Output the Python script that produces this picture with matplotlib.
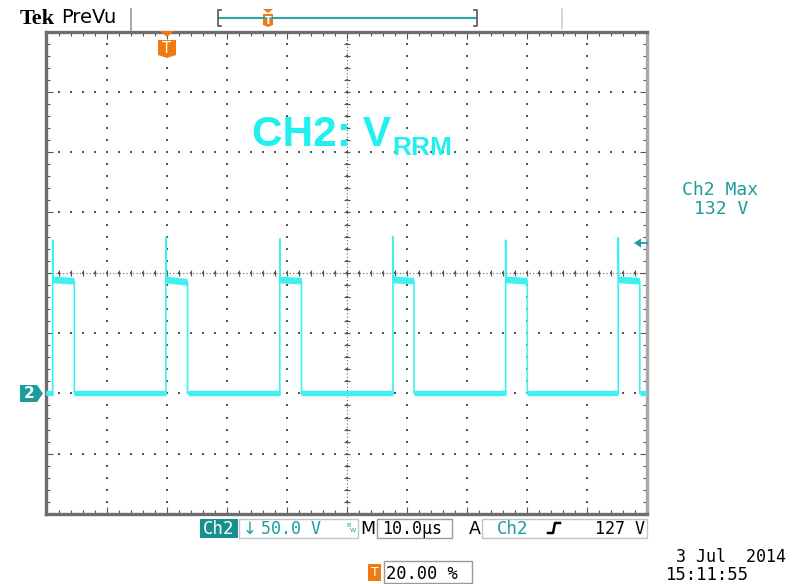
import numpy as np
import matplotlib
matplotlib.use('Agg')
import matplotlib.pyplot as plt
from matplotlib.patches import Rectangle, Polygon

# scope settings: 10 us/div, trigger at 20 %, 50 V/div, ground 2 div above bottom
t_min, t_max = -20.0, 80.0
v_min, v_max = -100.0, 300.0

# edges (us) and levels (V)
rise_us = [-18.97, -0.12, 18.85, 37.70, 56.46, 75.21]
fall_us = [-15.37, 3.49, 22.46, 41.20, 60.07, 78.80]
spike_v = [127, 130, 128, 130, 127, 129]
high_start_v = [94, 94, 94, 94, 94, 94]
high_end_v = [93, 92, 93, 93, 93, 93]
low_v = 0.0

trace_col = '#3ff0f0'
teal = '#1c9c9c'
orange = '#f07a12'

W, H = 803, 584
fig = plt.figure(figsize=(W / 100, H / 100), dpi=100)
fig.patch.set_facecolor('white')

# graticule area in pixels
gl, gr, gt, gb = 46.5, 647.0, 31.5, 514.0
ax = fig.add_axes([gl / W, 1 - gb / H, (gr - gl) / W, (gb - gt) / H])
ax.set_xlim(t_min, t_max)
ax.set_ylim(v_min, v_max)
ax.set_facecolor('white')

# dotted graticule
xmaj = np.arange(t_min, t_max + 0.1, 10)
ymaj = np.arange(v_min, v_max + 0.1, 50)
xmin_ = np.arange(t_min, t_max + 0.1, 2)
ymin_ = np.arange(v_min, v_max + 0.1, 10)
for x in xmaj[1:-1]:
    ax.scatter(np.full(len(ymin_), x), ymin_, s=2.2, marker='s', color='#555555', lw=0, zorder=1)
for y in ymaj[1:-1]:
    ax.scatter(xmin_, np.full(len(xmin_), y), s=2.2, marker='s', color='#555555', lw=0, zorder=1)

# center cross with ticks
xc, yc = (t_min + t_max) / 2, (v_min + v_max) / 2
ax.plot([xc, xc], [v_min, v_max], color='#666666', lw=0.8, ls=(0, (1, 2)), zorder=1)
ax.plot([t_min, t_max], [yc, yc], color='#666666', lw=0.8, ls=(0, (1, 2)), zorder=1)
ax.scatter(np.full(len(ymin_), xc), ymin_, marker='_', s=25, color='#555555', lw=0.9, zorder=1)
ax.scatter(xmin_, np.full(len(xmin_), yc), marker='|', s=25, color='#555555', lw=0.9, zorder=1)

# trace
t = [t_min]
v = [low_v]
for r, f, sp, hs, he in zip(rise_us, fall_us, spike_v, high_start_v, high_end_v):
    t += [r, r, r + 0.08, f, f]
    v += [low_v, sp, hs, he, low_v]
t.append(t_max)
v.append(low_v)
ax.plot(t, v, color=trace_col, lw=1.2, zorder=3)

# thick noisy flats
starts = [t_min] + fall_us
ends = rise_us + [t_max]
for a, b in zip(starts, ends):
    ax.plot([a, b], [low_v, low_v], color=trace_col, lw=3.8, solid_capstyle='butt', zorder=3)
for r, f, hs, he in zip(rise_us, fall_us, high_start_v, high_end_v):
    ax.plot([r + 0.08, f], [hs, he], color=trace_col, lw=4.8, solid_capstyle='butt', zorder=3)

ax.set_xticks(xmaj)
ax.set_yticks(ymaj)
ax.set_xticks(xmin_, minor=True)
ax.set_yticks(ymin_, minor=True)
ax.tick_params(which='both', direction='in', top=True, right=True, labelbottom=False,
               labelleft=False, color='#555555')
ax.tick_params(which='major', length=5, width=0.8)
ax.tick_params(which='minor', length=3, width=0.8)
for side in ['left', 'bottom', 'top']:
    ax.spines[side].set_color('#6e6e6e')
    ax.spines[side].set_linewidth(2.4)
ax.spines['right'].set_color('#a8a8a8')
ax.spines['right'].set_linewidth(2.4)

# overlay in pixel coordinates for the scope decorations
ov = fig.add_axes([0, 0, 1, 1], zorder=5)
ov.set_xlim(0, W)
ov.set_ylim(H, 0)
ov.axis('off')
ov.patch.set_alpha(0)

sans = 'DejaVu Sans'
mono = 'DejaVu Sans Mono'

# header
ov.text(20, 24, 'Tek', fontsize=16, fontweight='bold', family='Liberation Serif', va='baseline')
ov.text(61, 23, 'PreVu', fontsize=14, family=sans, va='baseline')
ov.plot([131, 131], [9, 30], color='#9a9a9a', lw=1.2)
ov.plot([562, 562], [9, 28], color='#cfcfcf', lw=1.2)
ov.plot([219, 476], [18, 18], color='#2aa8a8', lw=1.5)
ov.plot([221, 218, 218, 221], [10, 10, 26, 26], color='#555555', lw=1.2)
ov.plot([474, 477, 477, 474], [10, 10, 26, 26], color='#555555', lw=1.2)
ov.add_patch(Polygon([[263, 9], [273, 9], [268, 13]], closed=True, color=orange, lw=0))
ov.add_patch(Polygon([[263, 14], [273, 14], [273, 25], [268, 27], [263, 25]], closed=True, color=orange, lw=0))
ov.text(268, 20.5, 'T', fontsize=7, color='white', ha='center', va='center', family=sans, fontweight='bold')

# trigger position marker
ov.add_patch(Polygon([[160, 31], [174, 31], [167, 37]], closed=True, color=orange, lw=0))
ov.add_patch(Polygon([[158, 40], [176, 40], [176, 55], [167, 58], [158, 55]], closed=True, color=orange, lw=0))
ov.text(167, 48.5, 'T', fontsize=10.5, color='white', ha='center', va='center', family=sans)

# ground marker for channel 2
ov.add_patch(Polygon([[20, 385], [37, 385], [43, 393.5], [37, 402], [20, 402]], closed=True, color=teal, lw=0))
ov.text(29, 394, '2', fontsize=11, color='white', ha='center', va='center', family=sans, fontweight='bold')

# trigger level arrow
ov.add_patch(Polygon([[634, 243], [641, 238.5], [641, 247.5]], closed=True, color=teal, lw=0))
ov.plot([640, 647], [243, 243], color=teal, lw=1.3)

# annotation
ov.text(252, 146.5, 'CH2: V', fontsize=30.5, fontweight='bold', family='Liberation Sans',
        color='#20f0f0', va='baseline')
ov.text(392, 155, 'RRM', fontsize=19, fontweight='bold', family='Liberation Sans',
        color='#20f0f0', va='baseline')

# measurement readout
ov.text(720, 195, 'Ch2 Max', fontsize=13, color=teal, ha='center', va='baseline', family=mono)
ov.text(721, 213.5, '132 V', fontsize=13, color=teal, ha='center', va='baseline', family=mono)

# bottom status bar
ov.add_patch(Rectangle((200, 519), 38, 19, color='#17918f', lw=0))
ov.text(219, 534, 'Ch2', fontsize=12.5, color='white', ha='center', va='baseline', family=mono)
ov.add_patch(Rectangle((239, 519), 119, 19, fill=False, ec='#c4c4c4', lw=1))
ov.text(243, 534, '\u2193', fontsize=12, color=teal, va='baseline', family=sans)
ov.text(261, 534, '50.0 V', fontsize=12, color=teal, va='baseline', family=mono)
ov.text(346, 527, 'B', fontsize=4.5, color=teal, va='baseline', family=sans)
ov.text(350, 532, 'W', fontsize=4.5, color=teal, va='baseline', family=sans)
ov.text(360, 534, 'M', fontsize=12.5, color='black', va='baseline', family=sans)
ov.add_patch(Rectangle((377, 519), 75, 19, fill=False, ec='#9a9a9a', lw=1))
ov.text(382, 534, '10.0\u00b5s', fontsize=12, color='black', va='baseline', family=mono)
ov.text(469, 534, 'A', fontsize=12.5, color='black', va='baseline', family=sans)
ov.add_patch(Rectangle((482, 519), 165, 19, fill=False, ec='#c4c4c4', lw=1))
ov.text(497, 534, 'Ch2', fontsize=12.5, color=teal, va='baseline', family=mono)
ov.plot([548, 553, 555, 560], [533, 533, 523, 523], color='black', lw=1.8)
ov.text(645, 534, '127 V', fontsize=12, color='black', ha='right', va='baseline', family=mono)

ov.add_patch(Rectangle((368, 564), 13, 17, color=orange, lw=0))
ov.text(374.5, 573, 'T', fontsize=9, color='white', ha='center', va='center', family=sans)
ov.add_patch(Rectangle((384, 561), 88, 22, fill=False, ec='#9a9a9a', lw=1))
ov.text(386, 579, '20.00 %', fontsize=12.3, color='black', va='baseline', family=mono)

ov.text(676, 562, '3 Jul  2014', fontsize=12, color='black', va='baseline', family=mono)
ov.text(666, 580, '15:11:55', fontsize=12.4, color='black', va='baseline', family=mono)

fig.savefig('out.png', dpi=100, facecolor='white')
